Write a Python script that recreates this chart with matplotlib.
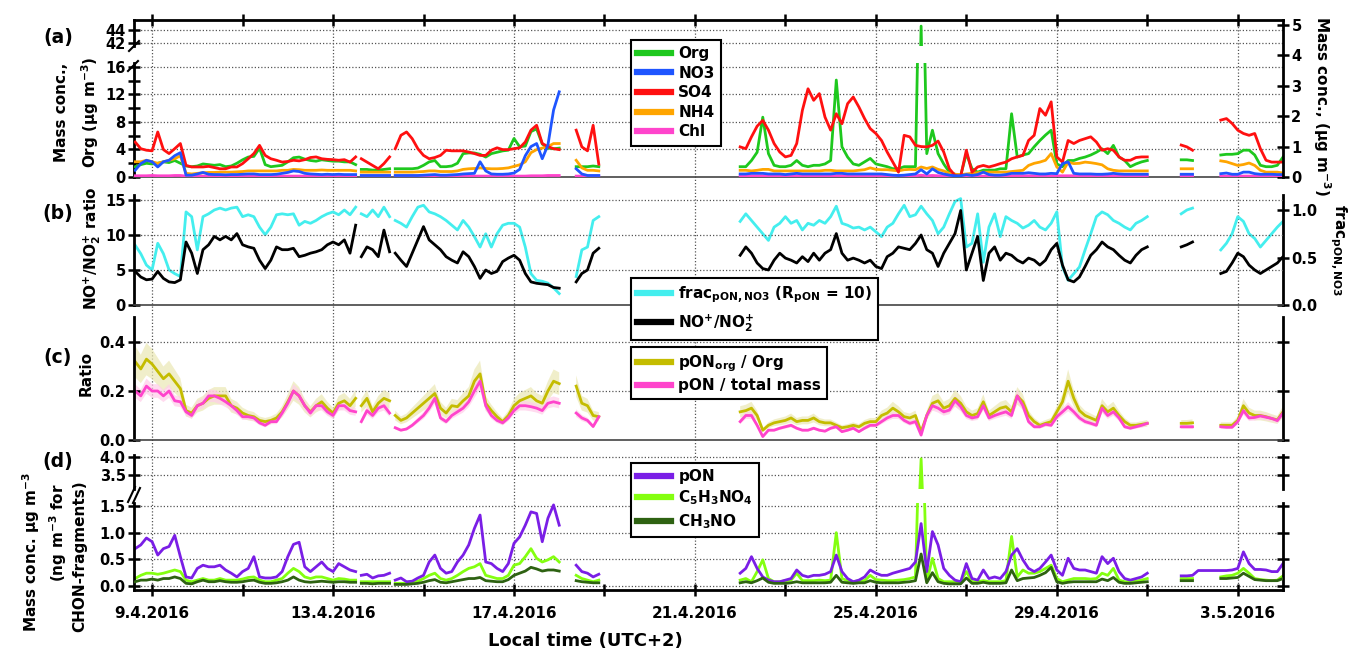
import numpy as np
import matplotlib
matplotlib.use("Agg")
import matplotlib.pyplot as plt
from matplotlib.ticker import FixedLocator, FormatStrFormatter, NullFormatter
from matplotlib.lines import Line2D

plt.rcParams['font.family'] = ['DejaVu Sans']
plt.rcParams['font.weight'] = 'bold'
plt.rcParams['mathtext.fontset'] = 'dejavusans'
plt.rcParams['mathtext.default'] = 'bf'

nan = np.nan

# ---------------- time base (day of April 2016, 3-hourly, gaps between segments) ----
seg_edges = [(8.625, 13.5), (13.625, 14.25), (14.375, 18.0), (18.375, 18.875), (22.0, 31.0), (31.75, 34.0)]
step = 0.125
x_min, x_max = 8.6, 34.0
tick_days = [9, 13, 17, 21, 25, 29, 33]
tick_labels = ["9.4.2016", "13.4.2016", "17.4.2016", "21.4.2016", "25.4.2016", "29.4.2016", "3.5.2016"]
minor_days = [11, 15, 19, 23, 27, 31]

# ---------------- panel (a) ----------------
org = [
 [1.5, 1.8, 2.0, 1.9, 2.0, 2.2, 2.1, 2.4, 2.0, 1.6,
  1.5, 1.6, 1.9, 1.8, 1.7, 1.8, 1.5, 1.6, 2.0, 2.5,
  2.9, 3.0, 4.2, 1.8, 1.5, 1.6, 1.7, 2.2, 2.8, 2.9,
  2.6, 2.4, 2.3, 2.5, 2.4, 2.3, 2.3, 2.2, 2.2, 1.8],
 [1.1, 1.1, 1.0, 1.0, 1.1, 1.2],
 [1.2, 1.2, 1.2, 1.2, 1.3, 1.7, 2.2, 2.4, 1.5, 1.5,
  1.6, 2.0, 3.4, 3.5, 3.5, 3.3, 2.9, 3.4, 3.6, 3.8,
  3.9, 5.6, 4.4, 4.5, 6.6, 7.0, 4.8, 4.2, 4.1, 4.2],
 [1.5, 1.5, 1.5, 1.6, 1.5],
 [1.5, 1.5, 2.4, 3.6, 8.7, 3.4, 1.7, 1.5, 1.5, 1.7,
  2.4, 1.7, 1.5, 1.7, 1.7, 1.9, 2.4, 14.1, 4.4, 2.9,
  1.9, 1.7, 2.2, 2.7, 1.9, 1.7, 1.5, 1.2, 1.2, 1.5,
  1.5, 1.5, 44.6, 3.4, 6.8, 3.4, 1.9, 0.7, 0.4, 0.25,
  3.4, 1.2, 0.7, 1.0, 1.0, 1.0, 1.2, 1.2, 9.2, 2.9,
  3.2, 3.4, 4.4, 5.3, 6.1, 6.8, 1.9, 1.5, 2.4, 2.4,
  2.7, 2.9, 3.2, 3.6, 4.1, 3.4, 4.6, 2.9, 2.4, 1.5,
  1.9, 2.2, 2.4],
 [2.5, 2.5, 2.4, nan, nan, nan, nan, 3.2, 3.3, 3.3, 3.4, 3.9, 3.9, 3.2, 1.7, 1.5, 1.5, 1.7, 2.9],
]
no3 = [
 [0.22, 0.44, 0.55, 0.5, 0.33, 0.5, 0.55, 0.7, 0.8, 0.06,
  0.06, 0.1, 0.15, 0.09, 0.08, 0.08, 0.07, 0.08, 0.08, 0.09,
  0.1, 0.1, 0.08, 0.08, 0.08, 0.09, 0.12, 0.15, 0.2, 0.18,
  0.12, 0.1, 0.09, 0.08, 0.09, 0.08, 0.09, 0.08, 0.08, 0.08],
 [0.05, 0.05, 0.05, 0.05, 0.05, 0.05],
 [0.05, 0.05, 0.05, 0.05, 0.05, 0.06, 0.07, 0.08, 0.06, 0.06,
  0.07, 0.08, 0.1, 0.11, 0.12, 0.5, 0.2, 0.1, 0.09, 0.09,
  0.1, 0.13, 0.25, 0.7, 1.0, 1.1, 0.6, 1.05, 2.2, 2.8],
 [0.27, 0.1, 0.05, 0.05, 0.05],
 [0.1, 0.1, 0.12, 0.12, 0.12, 0.1, 0.1, 0.1, 0.08, 0.1,
  0.12, 0.1, 0.1, 0.1, 0.1, 0.1, 0.1, 0.12, 0.12, 0.1,
  0.1, 0.1, 0.1, 0.1, 0.1, 0.1, 0.08, 0.06, 0.05, 0.06,
  0.08, 0.1, 0.24, 0.1, 0.27, 0.15, 0.1, 0.06, 0.04, 0.04,
  0.08, 0.05, 0.08, 0.16, 0.08, 0.06, 0.06, 0.08, 0.12, 0.12,
  0.12, 0.14, 0.12, 0.1, 0.1, 0.12, 0.11, 0.44, 0.5, 0.12,
  0.1, 0.1, 0.1, 0.09, 0.09, 0.1, 0.12, 0.1, 0.09, 0.09,
  0.09, 0.09, 0.09],
 [0.09, 0.09, 0.09, nan, nan, nan, nan, 0.11, 0.13, 0.09, 0.09, 0.16, 0.16, 0.11, 0.09, 0.09, 0.09, 0.08, 0.08],
]
so4 = [
 [1.15, 0.93, 0.88, 0.86, 1.48, 0.9, 0.77, 0.93, 1.1, 0.38,
  0.33, 0.33, 0.33, 0.35, 0.31, 0.27, 0.27, 0.33, 0.33, 0.44,
  0.6, 0.77, 1.04, 0.71, 0.6, 0.55, 0.49, 0.51, 0.55, 0.53,
  0.57, 0.64, 0.66, 0.6, 0.58, 0.57, 0.55, 0.57, 0.49, 0.66],
 [0.6, 0.49, 0.38, 0.27, 0.44, 0.66],
 [0.93, 1.37, 1.48, 1.26, 0.93, 0.71, 0.6, 0.64, 0.71, 0.88,
  0.86, 0.86, 0.86, 0.82, 0.77, 0.71, 0.71, 0.88, 0.96, 0.9,
  0.9, 0.93, 0.96, 1.15, 1.54, 1.7, 1.1, 1.0, 0.93, 0.9],
 [1.54, 0.99, 0.86, 1.7, 0.42],
 [0.99, 0.93, 1.32, 1.67, 1.86, 1.54, 1.1, 0.82, 0.66, 0.71,
  1.1, 2.19, 2.9, 2.52, 2.74, 1.97, 1.54, 2.08, 1.75, 2.41,
  2.63, 2.3, 1.92, 1.59, 1.43, 1.2, 0.82, 0.49, 0.16, 1.37,
  1.32, 1.04, 1.0, 0.99, 1.04, 1.18, 0.82, 0.27, 0.05, 0.02,
  0.88, 0.16, 0.33, 0.38, 0.33, 0.38, 0.44, 0.49, 0.6, 0.66,
  0.71, 1.2, 1.37, 2.25, 2.03, 2.47, 0.66, 0.49, 1.2, 1.1,
  1.2, 1.26, 1.32, 1.15, 0.88, 0.93, 0.88, 0.66, 0.55, 0.55,
  0.64, 0.66, 0.66],
 [1.05, 0.99, 0.88, nan, nan, nan, nan, 1.87, 1.92, 1.76, 1.54, 1.43, 1.37, 1.43, 0.93, 0.55, 0.49, 0.49, 0.49],
]
nh4 = [
 [0.5, 0.5, 0.55, 0.5, 0.45, 0.5, 0.55, 0.6, 0.7, 0.12,
  0.1, 0.12, 0.14, 0.15, 0.15, 0.16, 0.16, 0.16, 0.17, 0.18,
  0.2, 0.2, 0.2, 0.2, 0.2, 0.2, 0.22, 0.22, 0.25, 0.24,
  0.22, 0.22, 0.22, 0.23, 0.22, 0.22, 0.22, 0.22, 0.22, 0.2],
 [0.16, 0.16, 0.16, 0.16, 0.16, 0.16],
 [0.16, 0.16, 0.16, 0.16, 0.17, 0.18, 0.2, 0.2, 0.18, 0.18,
  0.18, 0.2, 0.25, 0.27, 0.28, 0.3, 0.28, 0.27, 0.27, 0.28,
  0.3, 0.35, 0.4, 0.5, 0.8, 0.9, 0.95, 1.0, 1.1, 1.1],
 [0.55, 0.3, 0.22, 0.22, 0.2],
 [0.22, 0.22, 0.2, 0.22, 0.25, 0.25, 0.2, 0.2, 0.2, 0.2,
  0.2, 0.2, 0.2, 0.2, 0.2, 0.22, 0.22, 0.2, 0.2, 0.2,
  0.2, 0.22, 0.24, 0.3, 0.25, 0.24, 0.24, 0.22, 0.2, 0.24,
  0.25, 0.24, 0.33, 0.28, 0.33, 0.25, 0.2, 0.12, 0.09, 0.08,
  0.1, 0.12, 0.14, 0.16, 0.16, 0.16, 0.16, 0.16, 0.18, 0.2,
  0.22, 0.38, 0.45, 0.49, 0.55, 0.77, 0.33, 0.16, 0.49, 0.44,
  0.45, 0.49, 0.47, 0.44, 0.4, 0.27, 0.22, 0.2, 0.2, 0.2,
  0.2, 0.2, 0.2],
 [0.27, 0.27, 0.27, nan, nan, nan, nan, 0.53, 0.5, 0.44, 0.38, 0.41, 0.46, 0.38, 0.22, 0.16, 0.16, 0.16, 0.13],
]
chl = [
 [0.04, 0.04, 0.04, 0.05, 0.04, 0.04, 0.04, 0.05, 0.05, 0.03,
  0.03, 0.03, 0.03, 0.03, 0.03, 0.03, 0.03, 0.03, 0.03, 0.03,
  0.03, 0.03, 0.03, 0.03, 0.03, 0.03, 0.03, 0.03, 0.03, 0.03,
  0.03, 0.03, 0.03, 0.03, 0.03, 0.03, 0.03, 0.03, 0.03, 0.03],
 [0.03, 0.03, 0.03, 0.03, 0.03, 0.03],
 [0.03, 0.03, 0.03, 0.03, 0.03, 0.03, 0.03, 0.03, 0.03, 0.03,
  0.03, 0.03, 0.03, 0.03, 0.03, 0.03, 0.03, 0.03, 0.03, 0.03,
  0.03, 0.03, 0.03, 0.03, 0.04, 0.04, 0.04, 0.05, 0.05, 0.05],
 [0.03, 0.03, 0.03, 0.03, 0.03],
 [0.04, 0.04, 0.04, 0.04, 0.04, 0.04, 0.04, 0.04, 0.04, 0.04,
  0.04, 0.04, 0.04, 0.04, 0.04, 0.04, 0.04, 0.04, 0.04, 0.04,
  0.04, 0.04, 0.04, 0.04, 0.04, 0.04, 0.04, 0.04, 0.04, 0.04,
  0.04, 0.04, 0.06, 0.04, 0.05, 0.04, 0.04, 0.03, 0.03, 0.03,
  0.04, 0.03, 0.03, 0.03, 0.03, 0.03, 0.03, 0.03, 0.04, 0.04,
  0.04, 0.04, 0.04, 0.04, 0.04, 0.04, 0.04, 0.04, 0.04, 0.04,
  0.04, 0.04, 0.04, 0.04, 0.04, 0.04, 0.04, 0.04, 0.04, 0.04,
  0.04, 0.04, 0.04],
 [0.03, 0.03, 0.03, nan, nan, nan, nan, 0.03, 0.03, 0.03, 0.03, 0.03, 0.03, 0.03, 0.03, 0.03, 0.03, 0.03, 0.03],
]

# ---------------- panel (b) ----------------
frac_pon = [
 [0.63, 0.54, 0.42, 0.37, 0.65, 0.54, 0.37, 0.33, 0.3, 0.98,
  0.93, 0.58, 0.93, 0.96, 1.0, 1.02, 1.0, 1.02, 1.03, 0.93,
  0.95, 0.93, 0.82, 0.74, 0.82, 0.95, 0.96, 0.95, 0.96, 0.84,
  0.88, 0.86, 0.89, 0.93, 0.96, 0.98, 0.95, 1.0, 0.95, 1.03],
 [0.96, 0.93, 1.0, 0.93, 1.03, 0.93],
 [0.89, 0.86, 0.82, 0.93, 1.03, 1.05, 0.98, 0.96, 0.93, 0.89,
  0.84, 0.79, 0.89, 0.82, 0.72, 0.61, 0.75, 0.61, 0.75, 0.84,
  0.86, 0.86, 0.82, 0.61, 0.33, 0.26, 0.25, 0.23, 0.18, 0.12],
 [0.3, 0.58, 0.61, 0.89, 0.93],
 [0.88, 0.96, 0.89, 0.82, 0.75, 0.68, 0.82, 0.86, 0.93, 0.86,
  0.89, 0.79, 0.86, 0.84, 0.89, 0.86, 0.93, 1.04, 0.86, 0.84,
  0.81, 0.82, 0.79, 0.82, 0.77, 0.72, 0.82, 0.86, 0.96, 1.05,
  0.93, 0.95, 1.04, 0.96, 0.89, 0.75, 0.82, 0.96, 1.09, 1.12,
  0.61, 0.65, 0.96, 0.45, 0.82, 0.96, 0.72, 0.93, 0.89, 0.86,
  0.81, 0.84, 0.89, 0.82, 0.79, 0.86, 0.98, 0.4, 0.26, 0.33,
  0.4, 0.58, 0.75, 0.93, 0.98, 0.95, 0.89, 0.86, 0.82, 0.79,
  0.86, 0.89, 0.93],
 [0.96, 1.0, 1.02, nan, nan, nan, nan, 0.58, 0.65, 0.75, 0.93, 0.88, 0.75, 0.7, 0.61, 0.68, 0.75, 0.82, 0.88],
]
no_ratio = [
 [4.8, 4.0, 3.6, 3.7, 4.8, 3.8, 3.3, 3.2, 3.6, 9.0,
  7.4, 4.5, 7.9, 8.6, 9.8, 9.3, 9.8, 9.3, 10.2, 8.6,
  8.3, 8.1, 6.4, 5.2, 6.4, 8.3, 7.9, 7.9, 8.1, 6.9,
  7.1, 7.4, 7.6, 7.9, 8.6, 9.0, 8.6, 9.3, 7.4, 11.4],
 [6.9, 8.3, 7.9, 6.9, 10.7, 7.6],
 [7.4, 6.4, 5.5, 7.4, 9.3, 11.2, 9.3, 8.6, 7.9, 6.9,
  6.4, 6.0, 7.6, 6.9, 5.5, 3.8, 5.0, 4.5, 4.8, 6.2,
  6.7, 7.1, 6.4, 4.5, 3.3, 3.1, 3.0, 2.9, 2.5, 2.4],
 [3.3, 4.5, 5.0, 7.4, 8.1],
 [7.1, 8.3, 7.4, 6.0, 5.2, 5.0, 6.4, 7.4, 6.7, 6.4,
  6.0, 6.9, 6.2, 7.4, 6.4, 7.4, 7.9, 10.2, 7.4, 6.4,
  6.7, 6.4, 6.0, 6.4, 5.5, 5.2, 6.9, 7.4, 8.3, 8.1,
  7.9, 8.8, 10.0, 7.9, 7.4, 5.5, 7.4, 8.8, 10.2, 13.5,
  5.0, 7.4, 9.8, 3.5, 7.4, 8.3, 6.4, 7.4, 7.1, 6.4,
  6.0, 6.7, 6.4, 5.7, 6.4, 7.9, 8.8, 5.7, 3.6, 3.3,
  4.0, 5.5, 7.1, 7.9, 9.0, 8.3, 7.9, 7.1, 6.4, 6.0,
  7.1, 7.9, 8.3],
 [8.3, 8.6, 9.0, nan, nan, nan, nan, 4.5, 4.8, 6.0, 7.4, 6.9, 5.7, 5.0, 4.5, 5.0, 5.5, 6.0, 6.9],
]

# ---------------- panel (c) ----------------
pon_org_ratio = [
 [0.32, 0.29, 0.33, 0.31, 0.28, 0.25, 0.27, 0.24, 0.21, 0.12,
  0.11, 0.14, 0.15, 0.17, 0.18, 0.18, 0.18, 0.14, 0.13, 0.11,
  0.10, 0.095, 0.08, 0.075, 0.08, 0.09, 0.115, 0.156, 0.2, 0.18,
  0.14, 0.115, 0.14, 0.156, 0.13, 0.11, 0.15, 0.16, 0.14, 0.17],
 [0.14, 0.17, 0.115, 0.15, 0.17, 0.16],
 [0.10, 0.08, 0.09, 0.11, 0.13, 0.15, 0.17, 0.19, 0.13, 0.11,
  0.14, 0.136, 0.16, 0.18, 0.24, 0.27, 0.15, 0.12, 0.095, 0.075,
  0.1, 0.14, 0.16, 0.17, 0.18, 0.16, 0.15, 0.2, 0.24, 0.23],
 [0.22, 0.15, 0.14, 0.10, 0.095],
 [0.115, 0.12, 0.13, 0.1, 0.04, 0.06, 0.07, 0.075, 0.08, 0.09,
  0.075, 0.08, 0.08, 0.09, 0.075, 0.07, 0.07, 0.06, 0.05, 0.054,
  0.06, 0.054, 0.068, 0.075, 0.075, 0.1, 0.11, 0.13, 0.115, 0.095,
  0.09, 0.1, 0.034, 0.1, 0.15, 0.16, 0.13, 0.14, 0.17, 0.15,
  0.115, 0.1, 0.108, 0.156, 0.1, 0.115, 0.13, 0.136, 0.115, 0.18,
  0.156, 0.1, 0.075, 0.06, 0.068, 0.075, 0.115, 0.156, 0.24, 0.17,
  0.12, 0.1, 0.09, 0.08, 0.14, 0.115, 0.13, 0.1, 0.075, 0.06,
  0.06, 0.064, 0.068],
 [0.068, 0.068, 0.07, nan, nan, nan, nan, 0.06, 0.06, 0.06, 0.08, 0.14, 0.11, 0.1, 0.1, 0.095, 0.088, 0.082, 0.115],
]
pon_total_ratio = [
 [0.2, 0.18, 0.22, 0.2, 0.2, 0.18, 0.2, 0.16, 0.156, 0.115,
  0.10, 0.14, 0.15, 0.18, 0.18, 0.17, 0.156, 0.14, 0.12, 0.095,
  0.095, 0.09, 0.07, 0.06, 0.075, 0.075, 0.11, 0.15, 0.2, 0.18,
  0.14, 0.11, 0.14, 0.14, 0.115, 0.1, 0.14, 0.14, 0.12, 0.115],
 [0.075, 0.12, 0.1, 0.13, 0.14, 0.11],
 [0.05, 0.04, 0.045, 0.06, 0.08, 0.1, 0.13, 0.17, 0.09, 0.075,
  0.1, 0.115, 0.13, 0.156, 0.2, 0.24, 0.14, 0.1, 0.08, 0.07,
  0.09, 0.12, 0.14, 0.14, 0.136, 0.13, 0.12, 0.15, 0.156, 0.15],
 [0.11, 0.09, 0.08, 0.055, 0.095],
 [0.075, 0.1, 0.1, 0.06, 0.014, 0.04, 0.04, 0.048, 0.054, 0.06,
  0.048, 0.04, 0.04, 0.048, 0.04, 0.036, 0.048, 0.054, 0.034, 0.04,
  0.048, 0.034, 0.048, 0.06, 0.06, 0.075, 0.09, 0.1, 0.1, 0.08,
  0.068, 0.075, 0.02, 0.1, 0.14, 0.13, 0.115, 0.122, 0.16, 0.136,
  0.1, 0.09, 0.095, 0.14, 0.09, 0.1, 0.108, 0.115, 0.1, 0.18,
  0.14, 0.075, 0.054, 0.054, 0.064, 0.06, 0.095, 0.115, 0.136, 0.115,
  0.09, 0.075, 0.068, 0.06, 0.13, 0.1, 0.115, 0.09, 0.054, 0.048,
  0.054, 0.06, 0.068],
 [0.054, 0.054, 0.054, nan, nan, nan, nan, 0.054, 0.052, 0.052, 0.075, 0.12, 0.09, 0.092, 0.098, 0.093, 0.088, 0.079, 0.11],
]
rel_unc_org = 0.2      # shaded uncertainty, relative
rel_unc_total = 0.14

# ---------------- panel (d) ----------------
pon = [
 [0.7, 0.77, 0.9, 0.83, 0.58, 0.7, 0.74, 0.95, 0.55, 0.17,
  0.15, 0.33, 0.39, 0.36, 0.36, 0.39, 0.3, 0.24, 0.17, 0.27,
  0.33, 0.55, 0.17, 0.15, 0.15, 0.17, 0.27, 0.55, 0.78, 0.82,
  0.36, 0.27, 0.36, 0.45, 0.33, 0.27, 0.42, 0.36, 0.3, 0.27],
 [0.2, 0.22, 0.15, 0.19, 0.2, 0.24],
 [0.11, 0.15, 0.08, 0.09, 0.15, 0.2, 0.45, 0.58, 0.33, 0.24,
  0.27, 0.45, 0.58, 0.77, 1.08, 1.33, 0.45, 0.42, 0.33, 0.27,
  0.42, 0.8, 0.92, 1.14, 1.39, 1.36, 0.83, 1.27, 1.52, 1.14],
 [0.39, 0.27, 0.24, 0.17, 0.22],
 [0.24, 0.33, 0.55, 0.33, 0.17, 0.11, 0.08, 0.08, 0.11, 0.14,
  0.3, 0.2, 0.17, 0.2, 0.2, 0.22, 0.27, 0.58, 0.27, 0.14,
  0.08, 0.11, 0.17, 0.3, 0.24, 0.2, 0.2, 0.24, 0.27, 0.3,
  0.33, 0.45, 1.17, 0.27, 1.02, 0.77, 0.33, 0.2, 0.11, 0.08,
  0.42, 0.14, 0.11, 0.3, 0.14, 0.17, 0.14, 0.27, 0.58, 0.7,
  0.49, 0.33, 0.27, 0.33, 0.45, 0.58, 0.3, 0.2, 0.52, 0.33,
  0.3, 0.3, 0.27, 0.24, 0.55, 0.42, 0.52, 0.27, 0.14, 0.11,
  0.14, 0.17, 0.24],
 [0.19, 0.19, 0.2, 0.29, 0.29, 0.29, 0.29, 0.29, 0.29, 0.3, 0.33, 0.64, 0.42, 0.31, 0.31, 0.3, 0.27, 0.27, 0.42],
]
c5h3no4 = [
 [0.14, 0.2, 0.24, 0.24, 0.22, 0.24, 0.27, 0.3, 0.27, 0.11,
  0.08, 0.11, 0.14, 0.11, 0.11, 0.14, 0.11, 0.11, 0.11, 0.13,
  0.16, 0.17, 0.11, 0.08, 0.08, 0.11, 0.14, 0.24, 0.33, 0.27,
  0.17, 0.14, 0.17, 0.17, 0.14, 0.11, 0.14, 0.13, 0.11, 0.11],
 [0.08, 0.08, 0.08, 0.08, 0.08, 0.08],
 [0.05, 0.05, 0.05, 0.08, 0.09, 0.14, 0.2, 0.24, 0.14, 0.11,
  0.14, 0.2, 0.27, 0.33, 0.36, 0.42, 0.2, 0.17, 0.14, 0.14,
  0.2, 0.39, 0.42, 0.55, 0.7, 0.52, 0.45, 0.49, 0.55, 0.45],
 [0.2, 0.14, 0.11, 0.08, 0.11],
 [0.11, 0.14, 0.08, 0.27, 0.49, 0.14, 0.08, 0.08, 0.1, 0.11,
  0.24, 0.1, 0.1, 0.1, 0.11, 0.1, 0.11, 1.0, 0.14, 0.1,
  0.08, 0.1, 0.1, 0.2, 0.12, 0.11, 0.1, 0.1, 0.11, 0.12,
  0.14, 0.17, 3.95, 0.08, 0.52, 0.14, 0.08, 0.08, 0.08, 0.08,
  0.27, 0.08, 0.08, 0.1, 0.08, 0.08, 0.08, 0.1, 0.93, 0.17,
  0.3, 0.24, 0.24, 0.27, 0.33, 0.39, 0.14, 0.08, 0.11, 0.14,
  0.14, 0.14, 0.13, 0.14, 0.24, 0.2, 0.33, 0.11, 0.08, 0.08,
  0.09, 0.11, 0.14],
 [0.14, 0.14, 0.14, nan, nan, nan, nan, 0.17, 0.19, 0.2, 0.24, 0.33, 0.24, 0.14, 0.12, 0.11, 0.1, 0.11, 0.19],
]
ch3no = [
 [0.08, 0.11, 0.11, 0.13, 0.11, 0.14, 0.14, 0.17, 0.14, 0.05,
  0.04, 0.08, 0.11, 0.08, 0.08, 0.1, 0.08, 0.07, 0.07, 0.08,
  0.1, 0.11, 0.07, 0.05, 0.05, 0.06, 0.08, 0.11, 0.17, 0.11,
  0.08, 0.07, 0.08, 0.09, 0.08, 0.07, 0.08, 0.08, 0.07, 0.07],
 [0.05, 0.05, 0.04, 0.05, 0.05, 0.05],
 [0.03, 0.03, 0.03, 0.04, 0.05, 0.07, 0.1, 0.12, 0.07, 0.06,
  0.08, 0.1, 0.12, 0.14, 0.14, 0.16, 0.1, 0.09, 0.08, 0.08,
  0.12, 0.2, 0.24, 0.28, 0.35, 0.32, 0.28, 0.3, 0.3, 0.28],
 [0.1, 0.08, 0.07, 0.06, 0.06],
 [0.06, 0.08, 0.06, 0.1, 0.15, 0.07, 0.05, 0.05, 0.05, 0.06,
  0.08, 0.06, 0.06, 0.06, 0.06, 0.06, 0.07, 0.2, 0.07, 0.06,
  0.05, 0.06, 0.06, 0.1, 0.07, 0.06, 0.06, 0.06, 0.06, 0.07,
  0.08, 0.1, 0.6, 0.06, 0.25, 0.08, 0.05, 0.04, 0.04, 0.04,
  0.15, 0.05, 0.05, 0.07, 0.05, 0.05, 0.05, 0.06, 0.3, 0.1,
  0.14, 0.15, 0.16, 0.2, 0.25, 0.35, 0.08, 0.05, 0.07, 0.08,
  0.08, 0.08, 0.08, 0.08, 0.13, 0.1, 0.16, 0.07, 0.05, 0.05,
  0.06, 0.07, 0.08],
 [0.1, 0.1, 0.1, nan, nan, nan, nan, 0.14, 0.14, 0.15, 0.16, 0.24, 0.18, 0.12, 0.11, 0.1, 0.1, 0.1, 0.14],
]

# ---------------- helpers ----------------
seg_len = [int(round((b - a) / step)) + 1 for a, b in seg_edges]

def build_time():
    parts = []
    for (a, b), n in zip(seg_edges, seg_len):
        parts.append(a + step * np.arange(n))
        parts.append(np.array([nan]))
    return np.concatenate(parts[:-1])

def flat(series):
    parts = []
    for seg, n in zip(series, seg_len):
        arr = np.array(seg, dtype=float)
        if len(arr) < n:
            arr = np.concatenate([arr, np.full(n - len(arr), nan)])
        parts.append(arr[:n])
        parts.append(np.array([nan]))
    return np.concatenate(parts[:-1])

t = build_time()

C_ORG, C_NO3, C_SO4, C_NH4, C_CHL = '#1ec81e', '#1f55ff', '#ff1010', '#ffa500', '#ff44cc'
C_FRAC, C_RATIO = '#44eeee', '#000000'
C_OLIVE, C_PINK = '#c4bc00', '#ff44cc'
C_PON, C_C5, C_CH3 = '#7a1ee6', '#84ff10', '#2e6212'
LW = 2.0
SPW = 2.0
GRID = dict(color='#555555', linestyle=(0, (1, 1.6)), linewidth=0.9)

W, H = 1351, 656
XL, XR = 134, 1283
fig = plt.figure(figsize=(W / 100, H / 100), dpi=100)

def add_ax(top, bottom, z=1):
    ax = fig.add_axes([XL / W, 1 - bottom / H, (XR - XL) / W, (bottom - top) / H], zorder=z)
    ax.set_xlim(x_min, x_max)
    ax.patch.set_visible(False)
    for s in ax.spines.values():
        s.set_visible(False)
    ax.tick_params(axis='x', which='both', bottom=False, top=False, labelbottom=False, labeltop=False)
    ax.tick_params(axis='y', which='both', direction='inout', length=8, width=1.8,
                   labelsize=10.5, pad=2)
    return ax

def set_spine(ax, side, lw=SPW, color='black'):
    ax.spines[side].set_visible(True)
    ax.spines[side].set_linewidth(lw)
    ax.spines[side].set_color(color)

def hgrid(ax, vals):
    for v in vals:
        ax.axhline(v, zorder=0.5, **GRID)

# background axes carrying the vertical grid lines
bg = add_ax(20, 590, z=0)
bg.set_ylim(0, 1)
bg.set_yticks([])
bg.xaxis.set_major_locator(FixedLocator(tick_days))
bg.grid(axis='x', **GRID)
bg.tick_params(axis='x', which='both', length=0)

# ---------------- panel (a) ----------------
a_top = add_ax(20, 46, z=1)
a_top.set_ylim(41.54, 45.54)
set_spine(a_top, 'left'); set_spine(a_top, 'top')
a_top.yaxis.set_major_locator(FixedLocator([42, 44]))
hgrid(a_top, [42, 44])
a_top.xaxis.set_major_locator(FixedLocator(tick_days))
a_top.xaxis.set_minor_locator(FixedLocator(minor_days))
a_top.tick_params(axis='x', which='both', top=True, direction='inout', length=9, width=1.8, labeltop=False)

a_bot = add_ax(63, 177, z=1)
a_bot.set_ylim(0, 16.58)
set_spine(a_bot, 'left'); set_spine(a_bot, 'bottom', lw=1.2, color='#444444')
a_bot.yaxis.set_major_locator(FixedLocator([0, 4, 8, 12, 16]))
a_bot.yaxis.set_minor_locator(FixedLocator([2, 6, 10, 14]))
hgrid(a_bot, [4, 8, 12, 16])

a_r = add_ax(20, 177, z=2)
a_r.set_ylim(0, 5.16)
set_spine(a_r, 'right')
a_r.yaxis.tick_right()
a_r.yaxis.set_major_locator(FixedLocator([0, 1, 2, 3, 4, 5]))
a_r.tick_params(axis='y', which='both', direction='inout', length=8, width=1.8, labelsize=10.5, pad=2)

org_f = flat(org)
for ax in (a_top, a_bot):
    ax.plot(t, org_f, color=C_ORG, lw=LW, zorder=3)
a_r.plot(t, flat(chl), color=C_CHL, lw=LW)
a_r.plot(t, flat(nh4), color=C_NH4, lw=LW)
a_r.plot(t, flat(so4), color=C_SO4, lw=LW)
a_r.plot(t, flat(no3), color=C_NO3, lw=LW)

# ---------------- panel (b) ----------------
b_r = add_ax(195, 305, z=1)
b_r.set_ylim(0, 1.158)
set_spine(b_r, 'right')
b_r.yaxis.tick_right()
b_r.yaxis.set_major_locator(FixedLocator([0.0, 0.5, 1.0]))
b_r.yaxis.set_major_formatter(FormatStrFormatter('%.1f'))
b_r.tick_params(axis='y', which='both', direction='inout', length=8, width=1.8, labelsize=10.5, pad=2)
b_r.plot(t, flat(frac_pon), color=C_FRAC, lw=LW)

b_l = add_ax(195, 305, z=2)
b_l.set_ylim(0, 15.71)
set_spine(b_l, 'left'); set_spine(b_l, 'bottom', lw=1.2, color='#444444')
b_l.yaxis.set_major_locator(FixedLocator([0, 5, 10, 15]))
hgrid(b_l, [5, 10, 15])
b_l.plot(t, flat(no_ratio), color=C_RATIO, lw=LW)

# ---------------- panel (c) ----------------
c = add_ax(317, 440, z=1)
c.set_ylim(0, 0.502)
set_spine(c, 'left'); set_spine(c, 'right'); set_spine(c, 'bottom', lw=1.2, color='#444444')
c.yaxis.set_major_locator(FixedLocator([0.0, 0.2, 0.4]))
c.yaxis.set_major_formatter(FormatStrFormatter('%.1f'))
c.tick_params(axis='y', which='both', left=True, right=True, labelright=False)
hgrid(c, [0.2, 0.4])
ro = flat(pon_org_ratio)
rt = flat(pon_total_ratio)
c.fill_between(t, ro * (1 - rel_unc_org), ro * (1 + rel_unc_org), where=np.isfinite(ro),
               color='#ebe8b4', alpha=0.7, lw=0, zorder=1)
c.fill_between(t, rt * (1 - rel_unc_total), rt * (1 + rel_unc_total), where=np.isfinite(rt),
               color='#ffcce9', alpha=0.7, lw=0, zorder=1.1)
c.plot(t, ro, color=C_OLIVE, lw=LW, zorder=2)
c.plot(t, rt, color=C_PINK, lw=LW, zorder=2.1)

# ---------------- panel (d) ----------------
d_top = add_ax(455, 489, z=1)
d_top.set_ylim(3.11, 4.055)
set_spine(d_top, 'left'); set_spine(d_top, 'right')
d_top.yaxis.set_major_locator(FixedLocator([3.5, 4.0]))
d_top.yaxis.set_major_formatter(FormatStrFormatter('%.1f'))
d_top.tick_params(axis='y', which='both', left=True, right=True, labelright=False)
hgrid(d_top, [3.5, 4.0])

d_bot = add_ax(503, 590, z=1)
d_bot.set_ylim(-0.075, 1.556)
set_spine(d_bot, 'left'); set_spine(d_bot, 'right'); set_spine(d_bot, 'bottom')
d_bot.yaxis.set_major_locator(FixedLocator([0.0, 0.5, 1.0, 1.5]))
d_bot.yaxis.set_major_formatter(FormatStrFormatter('%.1f'))
d_bot.tick_params(axis='y', which='both', left=True, right=True, labelright=False)
hgrid(d_bot, [0.0, 0.5, 1.0, 1.5])
d_bot.xaxis.set_major_locator(FixedLocator(tick_days))
d_bot.xaxis.set_minor_locator(FixedLocator(minor_days))
d_bot.set_xticklabels(tick_labels)
d_bot.xaxis.set_minor_formatter(NullFormatter())
d_bot.tick_params(axis='x', which='both', bottom=True, labelbottom=True, direction='inout',
                  length=9, width=1.8, labelsize=11, pad=7)

for ax in (d_top, d_bot):
    ax.plot(t, flat(ch3no), color=C_CH3, lw=LW, zorder=3)
    ax.plot(t, flat(c5h3no4), color=C_C5, lw=LW, zorder=2)
    ax.plot(t, flat(pon), color=C_PON, lw=LW, zorder=2.5)

# ---------------- break marks ----------------
def fig_line(x0, y0, x1, y1, lw=1.5):
    fig.add_artist(Line2D([x0 / W, x1 / W], [1 - y0 / H, 1 - y1 / H], color='black', lw=lw,
                          transform=fig.transFigure))

fig_line(129, 51, 139, 41)
fig_line(128, 71, 138, 61)
fig_line(128, 502, 135, 487)
fig_line(133, 503, 140, 488)

# ---------------- labels ----------------
def ftext(x, y, s, size=11, rot=0, **kw):
    fig.text(x / W, 1 - y / H, s, fontsize=size, rotation=rot, ha='center', va='center',
             fontweight='bold', **kw)

ftext(58, 38, '(a)', 13.5)
ftext(58, 214, '(b)', 13.5)
ftext(58, 358, '(c)', 13.5)
ftext(58, 462, '(d)', 13.5)

ftext(62, 112, 'Mass conc.,', 11, 90)
ftext(90, 112, r'Org ($\mu$g m$^{-3}$)', 11, 90)
ftext(1322, 106, r'Mass conc., ($\mu$g m$^{-3}$)', 11, -90)
ftext(92, 248, r'NO$^{+}$/NO$_{2}^{+}$ ratio', 11, 90)
ftext(1338, 250, r'frac$_{pON,NO3}$', 11, -90)
ftext(86, 374, 'Ratio', 11, 90)
ftext(31, 552, r'Mass conc. $\mu$g m$^{-3}$', 11, 90)
ftext(58, 533, r'(ng m$^{-3}$ for', 11, 90)
ftext(80, 556, 'CHON-fragments)', 11, 90)
ftext(585, 641, 'Local time (UTC+2)', 13)

# ---------------- legends ----------------
def make_legend(colors, labels, left, top, spacing):
    hs = [Line2D([], [], color=col, lw=4.5) for col in colors]
    leg = fig.legend(hs, labels, loc='upper left', bbox_to_anchor=(left / W, 1 - top / H),
                     bbox_transform=fig.transFigure, frameon=True, fancybox=False,
                     edgecolor='black', framealpha=1, fontsize=11, handlelength=2.2,
                     handletextpad=0.5, labelspacing=spacing, borderpad=0.4, borderaxespad=0)
    leg.get_frame().set_linewidth(1.5)
    leg.set_zorder(10)
    return leg

make_legend([C_ORG, C_NO3, C_SO4, C_NH4, C_CHL], ['Org', 'NO3', 'SO4', 'NH4', 'Chl'], 631, 40, 0.3)
make_legend([C_FRAC, C_RATIO], [r'frac$_{pON,NO3}$ (R$_{pON}$ = 10)', r'NO$^{+}$/NO$_{2}^{+}$'], 631, 278, 0.5)
make_legend([C_OLIVE, C_PINK], [r'pON$_{org}$ / Org', 'pON / total mass'], 631, 347, 0.3)
make_legend([C_PON, C_C5, C_CH3], ['pON', r'C$_5$H$_3$NO$_4$', r'CH$_3$NO'], 631, 463, 0.3)

fig.savefig('out.png', dpi=100)
